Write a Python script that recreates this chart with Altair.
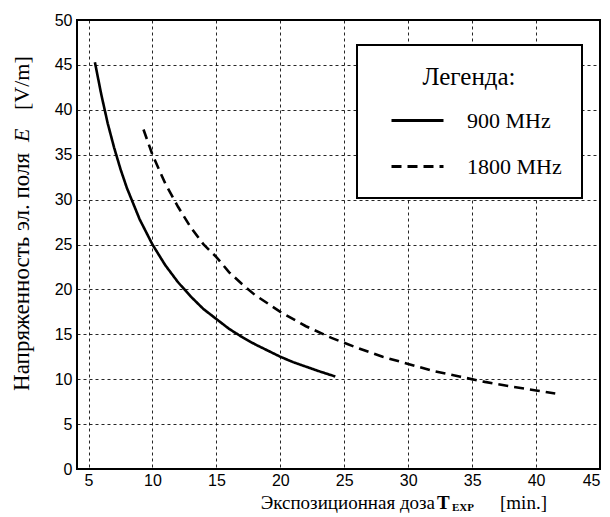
import altair as alt
import pandas as pd

# 900 MHz curve
t900 = [5.5, 6.0, 6.5, 7.0, 7.5, 8.0, 9.0, 10.0, 11.0, 12.0, 13.0, 14.0, 15.0,
        16.0, 17.0, 18.0, 19.0, 20.0, 21.0, 22.0, 23.0, 24.3]
e900 = [45.3, 41.7, 38.5, 35.8, 33.4, 31.3, 27.8, 25.0, 22.7, 20.8, 19.2, 17.8, 16.7,
        15.6, 14.7, 13.9, 13.2, 12.5, 11.9, 11.4, 10.9, 10.3]

# 1800 MHz curve
t1800 = [9.3, 10.0, 11.0, 12.0, 13.0, 14.0, 15.0, 16.0, 17.0, 18.0, 20.0, 22.0,
         24.0, 26.0, 28.0, 30.0, 32.0, 34.0, 36.0, 38.0, 40.0, 41.5]
e1800 = [37.8, 35.0, 31.8, 29.2, 26.9, 25.0, 23.6, 21.9, 20.6, 19.4, 17.5, 15.9,
         14.6, 13.5, 12.5, 11.7, 10.9, 10.3, 9.7, 9.2, 8.75, 8.4]

series = ["900 MHz", "1800 MHz"]
x_ticks = [5, 10, 15, 20, 25, 30, 35, 40, 45]
y_ticks = [0, 5, 10, 15, 20, 25, 30, 35, 40, 45, 50]

df = pd.DataFrame({
    "T": t900 + t1800,
    "E": e900 + e1800,
    "f": [series[0]] * len(t900) + [series[1]] * len(t1800),
    "o": list(range(len(t900))) + list(range(len(t1800))),
})

W, H = 523, 449
serif = "Liberation Serif"
sans = "Liberation Sans"

lines = alt.Chart(df).mark_line(color="black", strokeWidth=2.6).encode(
    x=alt.X("T:Q", scale=alt.Scale(domain=[4.1, 45], nice=False, zero=False),
            axis=alt.Axis(values=x_ticks, title=None)),
    y=alt.Y("E:Q", scale=alt.Scale(domain=[0, 50], nice=False),
            axis=alt.Axis(values=y_ticks, title=None)),
    order="o:Q",
    strokeDash=alt.StrokeDash(
        "f:N",
        scale=alt.Scale(domain=series, range=[[1, 0], [10, 6]]),
        legend=alt.Legend(
            orient="none", legendX=280, legendY=25,
            title="Легенда:", titleFont=serif, titleFontSize=25,
            titleFontWeight="normal", titleColor="black",
            titleAnchor="middle", titlePadding=3,
            labelFont=serif, labelFontSize=22, labelColor="black",
            symbolType="stroke", symbolSize=2704, symbolStrokeWidth=2.8,
            symbolStrokeColor="black", symbolOffset=13, labelOffset=22,
            rowPadding=7, padding=20,
            strokeColor="black", fillColor="white",
        ),
    ),
)

one = pd.DataFrame({"a": [0]})

def txt(s, x, y, **kw):
    return alt.Chart(one).mark_text(text=s, color="black", **kw).encode(
        x=alt.value(x), y=alt.value(y))

XB = H + 40  # baseline of the x title, relative to the plot top
xt1 = txt("Экспозиционная доза", 358, XB, font=serif, fontSize=19, align="right", baseline="alphabetic")
xt2 = txt("T", 360, XB, font=serif, fontSize=19, fontWeight="bold", align="left", baseline="alphabetic")
xt3 = txt("EXP", 375, XB + 2, font=serif, fontSize=11, fontWeight="bold", align="left", baseline="alphabetic")
xt4 = txt("[min.]", 423, XB, font=serif, fontSize=19, align="left", baseline="alphabetic")

YB = -48  # baseline of the rotated y title, relative to the plot's left edge
yt1 = txt("Напряженность эл. поля", YB, 133, font=serif, fontSize=23, angle=270, align="right", baseline="alphabetic")
yt2 = txt("E", YB, 122, font=serif, fontSize=22, fontStyle="italic", angle=270, align="left", baseline="alphabetic")
yt3 = txt("[V/m]", YB, 90, font=serif, fontSize=22, angle=270, align="left", baseline="alphabetic")

chart = alt.layer(lines, xt1, xt2, xt3, xt4, yt1, yt2, yt3).properties(
    width=W, height=H,
    autosize=alt.AutoSizeParams(type="none"),
    padding={"left": 69, "top": 12, "right": 2, "bottom": 46},
).configure_view(
    stroke="black", strokeWidth=2
).configure_axis(
    domain=False, ticks=False,
    grid=True, gridColor="black", gridDash=[3, 3], gridWidth=1, gridOpacity=0.85,
    labelFont=sans, labelFontSize=16, labelColor="black", labelPadding=3,
).configure_axisY(
    labelPadding=5
).configure_legend(
    strokeWidth=2
)

chart.save("out.html", embed_options={"renderer": "svg", "actions": False})
